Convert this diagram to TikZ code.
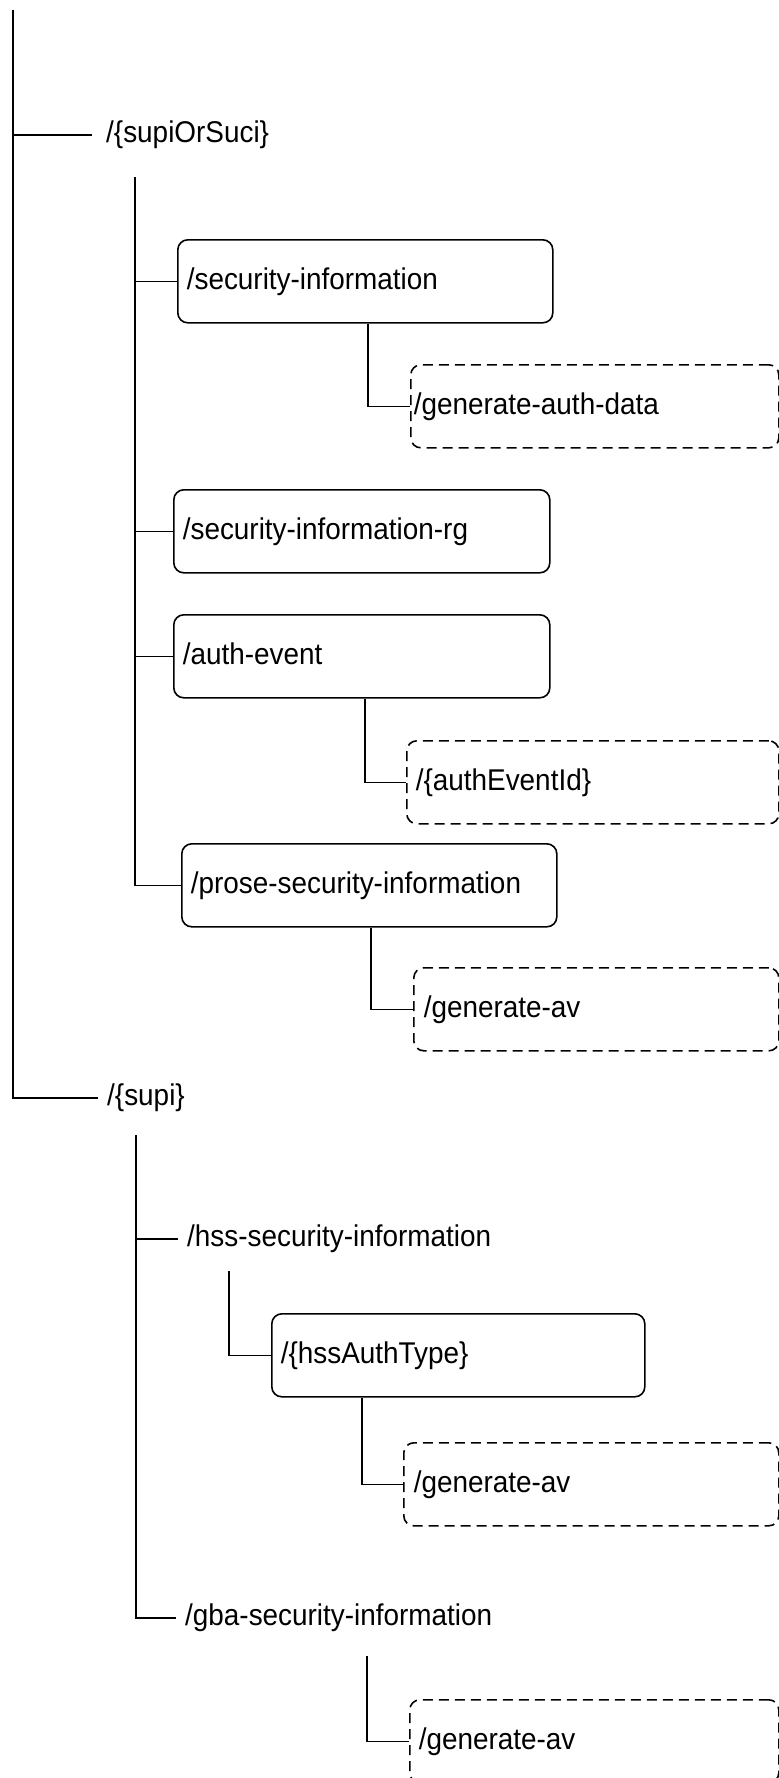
\documentclass[tikz,border=0pt]{standalone}
\usepackage{fontspec}
\setmainfont{Liberation Sans}[FakeStretch=0.93]
\tikzset{
  ln/.style={line width=1.6pt},
  txt/.style={inner sep=0pt, anchor=west, text height=21.9pt, text depth=6.3pt, font=\fontsize{30}{32}\selectfont},
  solidbox/.style={draw, line width=1.6pt, rounded corners=10pt, minimum height=83pt, inner ysep=0pt, inner xsep=9pt,
    align=left, anchor=north west, text height=21.9pt, text depth=6.3pt, font=\fontsize{30}{32}\selectfont},
  dashbox/.style={solidbox, dash pattern=on 10pt off 6pt}
}
\begin{document}
\begin{tikzpicture}[x=1pt,y=-1pt]
\useasboundingbox (0,0) rectangle (779,1778);
\clip (0,0) rectangle (779,1778);

% level 1 labels
\node[txt] (suci) at (106,135) {/\{supiOrSuci\}};
\node[txt] (supi) at (107,1098) {/\{supi\}};

% supiOrSuci children
\node[solidbox, text width=357pt] (si) at (177,239) {/security-information};
\node[dashbox, inner xsep=3pt, text width=362pt] (gad) at (410,364) {/generate-auth-data};
\node[solidbox, text width=358pt] (rg) at (173,489) {/security-information-rg};
\node[solidbox, text width=358pt] (ae) at (173,614) {/auth-event};
\node[dashbox, text width=354pt] (aei) at (406,740) {/\{authEventId\}};
\node[solidbox, text width=357pt] (prose) at (181,843) {/prose-security-information};
\node[dashbox, inner xsep=10pt, text width=345pt] (gav1) at (413,967) {/generate-av};

% supi children
\node[txt] (hss) at (187,1239) {/hss-security-information};
\node[solidbox, text width=355pt] (hat) at (271,1313) {/\{hssAuthType\}};
\node[dashbox, inner xsep=10pt, text width=355pt] (gav2) at (403,1442) {/generate-av};
\node[txt] (gba) at (185,1618) {/gba-security-information};
\node[dashbox, text width=351pt] (gav3) at (409,1699) {/generate-av};

% coordinates for free ends
\coordinate (m0) at (13,10);
\coordinate (v1) at (135,177);
\coordinate (v2) at (136,1135);
\coordinate (h1) at (229,1271);
\coordinate (g1) at (367,1656);

% main trunk
\draw[ln] (m0) |- ([xshift=-9pt]supi.west);
\draw[ln] (m0 |- suci.west) -- ([xshift=-14pt]suci.west);

% supiOrSuci subtree
\draw[ln] (v1) |- (prose.west);
\draw[ln] (v1 |- si.west) -- (si.west);
\draw[ln] (v1 |- rg.west) -- (rg.west);
\draw[ln] (v1 |- ae.west) -- (ae.west);
\draw[ln] ([xshift=191pt]si.south west) |- (gad.west);
\draw[ln] ([xshift=192pt]ae.south west) |- (aei.west);
\draw[ln] ([xshift=190pt]prose.south west) |- (gav1.west);

% supi subtree
\draw[ln] (v2) |- ([xshift=-9pt]gba.west);
\draw[ln] (v2 |- hss.west) -- ([xshift=-9pt]hss.west);
\draw[ln] (h1) |- (hat.west);
\draw[ln] ([xshift=91pt]hat.south west) |- (gav2.west);
\draw[ln] (g1) |- (gav3.west);
\end{tikzpicture}
\end{document}
